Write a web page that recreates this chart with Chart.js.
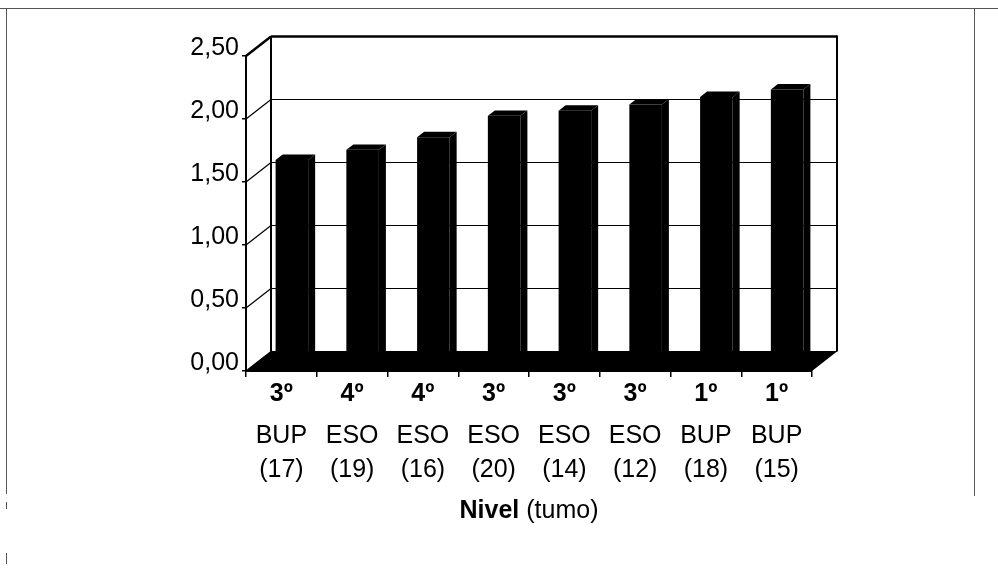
<!DOCTYPE html>
<html>
<head>
<meta charset="utf-8">
<script src="https://cdn.jsdelivr.net/npm/chart.js@4"></script>
<style>
  html, body { margin: 0; padding: 0; background: #fff; }
  #wrap { width: 998px; height: 573px; position: relative; }
</style>
</head>
<body>
<div id="wrap"><canvas id="c" width="998" height="573"></canvas></div>
<script>
// Mean score per course level (group number in brackets)
const grades = ['3º', '4º', '4º', '3º', '3º', '3º', '1º', '1º'];
const levels = ['BUP', 'ESO', 'ESO', 'ESO', 'ESO', 'ESO', 'BUP', 'BUP'];
const groups = ['(17)', '(19)', '(16)', '(20)', '(14)', '(12)', '(18)', '(15)'];
const means = [1.61, 1.69, 1.79, 1.96, 2.00, 2.05, 2.11, 2.17];
const yTickValues = [0, 0.5, 1, 1.5, 2, 2.5];
const yTickLabels = ['0,00', '0,50', '1,00', '1,50', '2,00', '2,50'];
const titleBold = 'Nivel';
const titleRest = ' (tumo)';

const FONT = "'Liberation Sans Narrow', 'Arial Narrow', 'Liberation Sans', Arial, sans-serif";

// Oblique depth of the 3D box and placement of the columns inside it
const DEPTH_X = 25;
const DEPTH_Y = 19.5;
const BAR_SHIFT = 0.42;   // front face of the columns, as a fraction of the depth
const BAR_DEPTH = 0.28;   // column thickness, as a fraction of the depth

function line(ctx, x1, y1, x2, y2) {
  ctx.beginPath();
  ctx.moveTo(x1, y1);
  ctx.lineTo(x2, y2);
  ctx.stroke();
}

const scene3d = {
  id: 'scene3d',
  beforeDraw(chart) {
    const ctx = chart.ctx;
    ctx.save();
    ctx.fillStyle = '#fff';
    ctx.fillRect(0, 0, chart.width, chart.height);
    // page frame
    ctx.strokeStyle = '#555';
    ctx.lineWidth = 1;
    line(ctx, 0, 8.5, 998, 8.5);
    line(ctx, 6.5, 8, 6.5, 494);
    line(ctx, 6.5, 502, 6.5, 509);
    line(ctx, 6.5, 553, 6.5, 564);
    line(ctx, 974.5, 8, 974.5, 496);
    ctx.restore();
  },
  beforeDatasetsDraw(chart) {
    const { ctx, chartArea: { left, right, top, bottom }, scales: { y } } = chart;
    const dx = DEPTH_X, dy = DEPTH_Y;
    ctx.save();
    ctx.strokeStyle = '#000';
    ctx.lineCap = 'butt';
    // back-wall gridlines and side-wall diagonals
    yTickValues.forEach((v) => {
      const py = y.getPixelForValue(v);
      ctx.lineWidth = v === 2.5 ? 2.5 : 1.2;
      line(ctx, left + dx, py - dy, right + dx, py - dy);
      line(ctx, left, py, left + dx, py - dy);
    });
    // back-wall edges
    ctx.lineWidth = 2;
    line(ctx, left + dx, top - dy, left + dx, bottom - dy);
    line(ctx, right + dx, top - dy - 1, right + dx, bottom - dy);
    // floor
    ctx.fillStyle = '#000';
    ctx.beginPath();
    ctx.moveTo(left, bottom);
    ctx.lineTo(right, bottom);
    ctx.lineTo(right + dx, bottom - dy);
    ctx.lineTo(left + dx, bottom - dy);
    ctx.closePath();
    ctx.fill();
    ctx.restore();
  },
  beforeDatasetDraw(chart) {
    const ctx = chart.ctx;
    ctx.save();
    ctx.translate(DEPTH_X * BAR_SHIFT, -DEPTH_Y * BAR_SHIFT);
  },
  afterDatasetDraw(chart, args) {
    const ctx = chart.ctx;
    const ex = DEPTH_X * BAR_DEPTH, ey = -DEPTH_Y * BAR_DEPTH;
    ctx.fillStyle = '#000';
    args.meta.data.forEach((bar) => {
      const p = bar.getProps(['x', 'y', 'base', 'width'], true);
      const l = p.x - p.width / 2, r = p.x + p.width / 2;
      // top face
      ctx.beginPath();
      ctx.moveTo(l, p.y);
      ctx.lineTo(l + ex, p.y + ey);
      ctx.lineTo(r + ex, p.y + ey);
      ctx.lineTo(r, p.y);
      ctx.closePath();
      ctx.fill();
      // side face
      ctx.beginPath();
      ctx.moveTo(r, p.y);
      ctx.lineTo(r + ex, p.y + ey);
      ctx.lineTo(r + ex, p.base + ey);
      ctx.lineTo(r, p.base);
      ctx.closePath();
      ctx.fill();
    });
    ctx.restore();
  },
  afterDraw(chart) {
    const { ctx, chartArea: { left, right } } = chart;
    ctx.save();
    ctx.fillStyle = '#000';
    ctx.textBaseline = 'middle';
    ctx.textAlign = 'left';
    const boldFont = 'bold 25px ' + FONT;
    const normFont = '25px ' + FONT;
    ctx.font = boldFont;
    const w1 = ctx.measureText(titleBold).width;
    ctx.font = normFont;
    const w2 = ctx.measureText(titleRest).width;
    const x0 = (left + right) / 2 - (w1 + w2) / 2;
    const ty = 511;
    ctx.font = boldFont;
    ctx.fillText(titleBold, x0, ty);
    ctx.font = normFont;
    ctx.fillText(titleRest, x0 + w1, ty);
    ctx.restore();
  }
};

new Chart(document.getElementById('c'), {
  type: 'bar',
  data: {
    labels: grades,
    datasets: [{
      data: means,
      backgroundColor: '#000',
      borderWidth: 0,
      categoryPercentage: 1,
      barPercentage: 0.46
    }]
  },
  options: {
    responsive: false,
    devicePixelRatio: 1,
    animation: false,
    layout: { padding: { top: 56, right: 186, bottom: 74, left: 0 } },
    plugins: { legend: { display: false }, tooltip: { enabled: false } },
    scales: {
      y: {
        min: 0,
        max: 2.5,
        afterBuildTicks: (scale) => { scale.ticks = yTickValues.map((v) => ({ value: v })); },
        afterFit: (scale) => { scale.width = 246; },
        grid: { drawOnChartArea: false, drawTicks: true, tickLength: 4, color: '#000', lineWidth: 1.5 },
        border: { display: true, color: '#000', width: 2 },
        ticks: {
          color: '#000',
          padding: 3,
          labelOffset: -8,
          font: { family: FONT, size: 25 },
          callback: (v, i) => yTickLabels[i]
        }
      },
      x: {
        type: 'category',
        offset: true,
        weight: 0,
        afterFit: (scale) => { scale.height = 38; },
        grid: { offset: true, drawOnChartArea: false, tickLength: 6, color: '#000', lineWidth: 1.5 },
        border: { display: true, color: '#000', width: 2 },
        ticks: {
          color: '#000',
          padding: 2,
          autoSkip: false,
          maxRotation: 0,
          font: { family: FONT, size: 25, weight: 'bold' }
        }
      },
      x2: {
        type: 'category',
        position: 'bottom',
        offset: true,
        weight: 1,
        labels: levels.map((l, i) => [l, groups[i]]),
        afterFit: (scale) => { scale.height = 90; },
        grid: { display: false },
        border: { display: false },
        ticks: {
          color: '#000',
          padding: 2,
          autoSkip: false,
          maxRotation: 0,
          font: { family: FONT, size: 25, lineHeight: 34 / 25 }
        }
      }
    }
  },
  plugins: [scene3d]
});
</script>
</body>
</html>
